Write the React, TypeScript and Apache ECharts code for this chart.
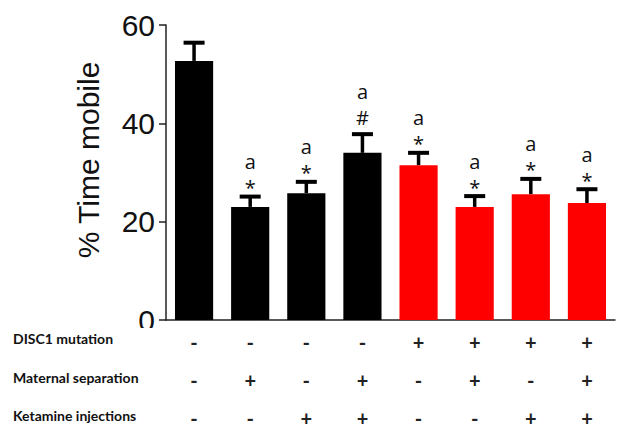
import React, { useEffect, useRef } from "react";
import * as echarts from "echarts";

const disc1 = ["-", "-", "-", "-", "+", "+", "+", "+"];
const maternal = ["-", "+", "-", "+", "-", "+", "-", "+"];
const ketamine = ["-", "-", "+", "+", "-", "-", "+", "+"];
const means = [52.7, 23.0, 25.8, 34.0, 31.5, 23.0, 25.6, 23.8];
const sems = [3.7, 2.1, 2.3, 3.8, 2.5, 2.2, 3.1, 2.8];
const marks = ["", "*", "*", "#", "*", "*", "*", "*"];
const letters = ["", "a", "a", "a", "a", "a", "a", "a"];
const rowLabels = ["DISC1 mutation", "Maternal separation", "Ketamine injections"];
const yTicks = { min: 0, max: 60, interval: 20 };

const categories = disc1.map((_, i) => String(i));

export default function App() {
  const ref = useRef<HTMLDivElement>(null);
  useEffect(() => {
    if (!ref.current) return;
    const chart = echarts.init(ref.current, null, { renderer: "svg" });
    const annFont = "20px 'Open Sans'";
    chart.setOption({
      animation: false,
      grid: { left: 166, right: 23, top: 25, bottom: 114, containLabel: false },
      xAxis: {
        type: "category",
        data: categories,
        axisLine: { lineStyle: { color: "#222", width: 1.5 } },
        axisTick: { alignWithLabel: true, length: 3, lineStyle: { color: "#333" } },
        axisLabel: {
          interval: 0,
          margin: 3,
          formatter: (_v: string, i: number) => `${disc1[i]}\n${maternal[i]}\n${ketamine[i]}`,
          lineHeight: 38,
          fontSize: 20,
          fontFamily: "Lato",
          fontWeight: "bold",
          color: "#222",
        },
      },
      yAxis: {
        type: "value",
        min: yTicks.min,
        max: yTicks.max,
        interval: yTicks.interval,
        axisLine: { show: true, lineStyle: { color: "#222", width: 1.5 } },
        axisTick: { show: true, length: 7, lineStyle: { color: "#222", width: 1.5 } },
        axisLabel: { fontSize: 30, fontFamily: "Liberation Sans", color: "#111", margin: 11 },
        splitLine: { show: false },
      },
      series: [
        {
          type: "bar",
          barWidth: "68%",
          data: means.map((v, i) => ({
            value: v,
            itemStyle: { color: disc1[i] === "+" ? "#ff0000" : "#000000" },
          })),
          z: 2,
        },
        {
          type: "custom",
          z: 5,
          data: means.map((v, i) => [i, v, v + sems[i]]),
          renderItem: (params: any, api: any) => {
            const i = params.dataIndex;
            const base = api.coord([api.value(0), api.value(1)]);
            const top = api.coord([api.value(0), api.value(2)]);
            const x = base[0];
            const capHalf = 10.5;
            const children: any[] = [
              {
                type: "line",
                shape: { x1: x, y1: base[1], x2: x, y2: top[1] },
                style: { stroke: "#000", lineWidth: 3.5 },
              },
              {
                type: "line",
                shape: { x1: x - capHalf, y1: top[1], x2: x + capHalf, y2: top[1] },
                style: { stroke: "#000", lineWidth: 4 },
              },
            ];
            const m = marks[i];
            const isHash = m === "#";
            if (m) {
              children.push({
                type: "text",
                x: x,
                y: top[1] - (isHash ? 17 : 9),
                style: {
                  text: m, align: "center", verticalAlign: "middle", font: annFont,
                  lineHeight: 16, fill: "#111",
                },
              });
            }
            const l = letters[i];
            if (l) {
              children.push({
                type: "text",
                x: x,
                y: top[1] - (isHash ? 43 : 35),
                style: {
                  text: l, align: "center", verticalAlign: "middle", font: annFont,
                  lineHeight: 16, fill: "#111",
                },
              });
            }
            return { type: "group", children };
          },
        },
      ],
      graphic: [
        {
          type: "text",
          x: 88,
          y: 160,
          rotation: Math.PI / 2,
          style: {
            text: "% Time mobile",
            align: "center",
            verticalAlign: "middle",
            font: "30px 'Liberation Sans'",
            fill: "#111",
          },
        },
        {
          type: "rect",
          z: 100,
          shape: { x: 125, y: 328, width: 38, height: 12 },
          style: { fill: "#fff" },
        },
        ...rowLabels.map((t, k) => ({
          type: "text",
          z: 101,
          x: 13,
          y: [338, 377, 415][k],
          style: { text: t, align: "left", verticalAlign: "middle", font: "bold 14px Lato", fill: "#111" },
        })),
      ],
    });
    return () => chart.dispose();
  }, []);
  return <div ref={ref} style={{ width: 638, height: 437, margin: -8 }} />;
}
